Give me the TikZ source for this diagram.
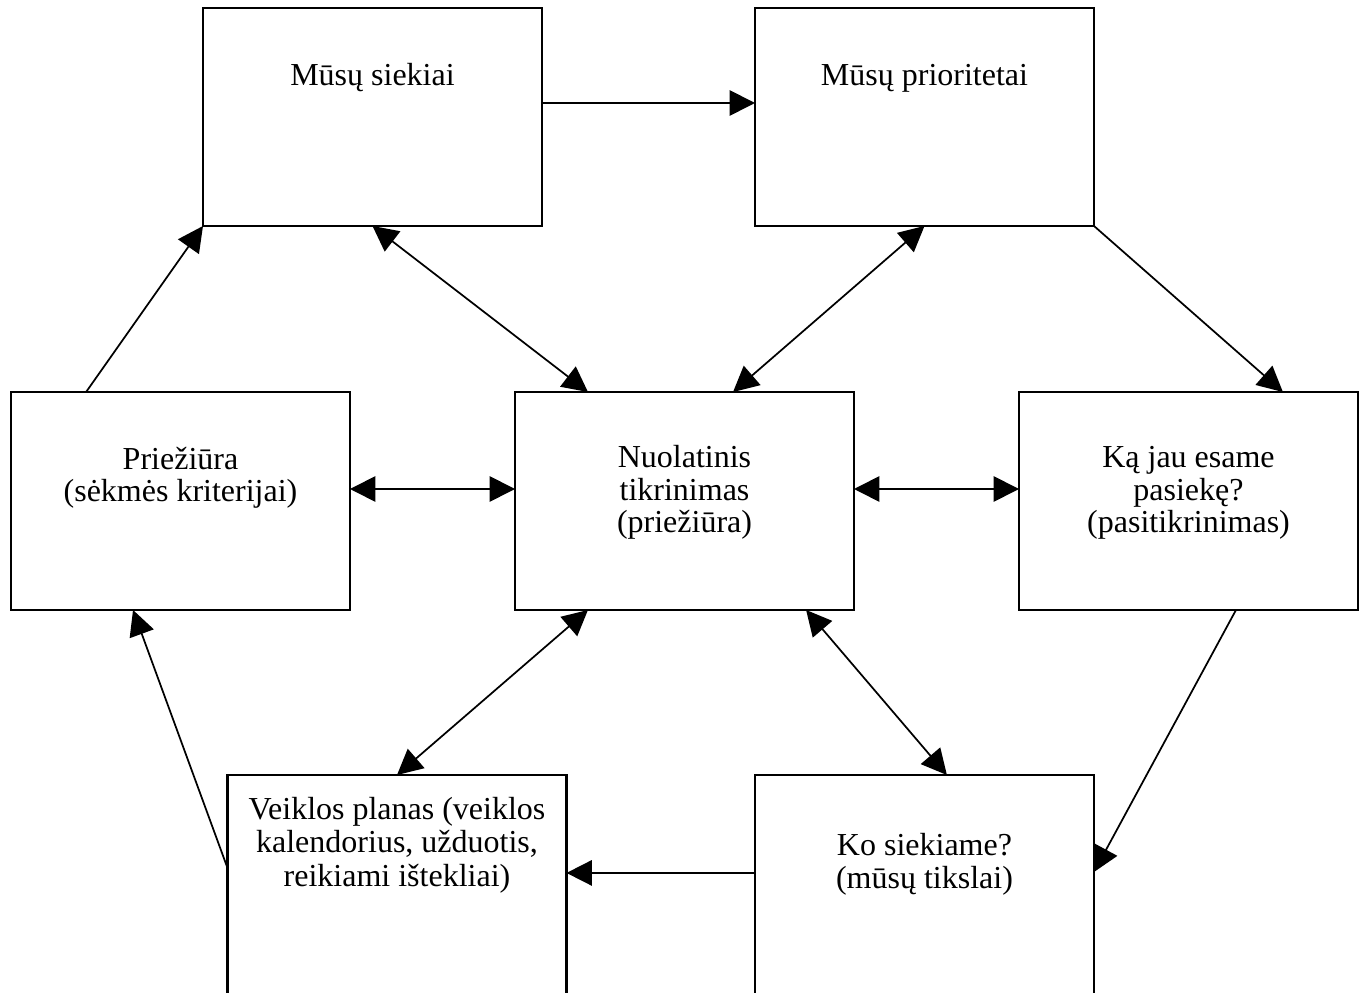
\documentclass[tikz,border=0pt]{standalone}
\usepackage{fontspec}
\setmainfont{Liberation Serif}
\usetikzlibrary{arrows.meta}
\begin{document}
\begin{tikzpicture}[x=0.375pt,y=-0.375pt,
  box/.style={draw, line width=0.8pt, minimum width=127.125pt, minimum height=81.75pt, inner sep=0pt, outer sep=0pt},
  tallbox/.style={box, minimum height=86.25pt},
  txt/.style={font=\fontsize{12pt}{12.2pt}\selectfont, align=center, inner sep=0pt, anchor=base},
  conn/.style={line width=0.65pt, -{Triangle[length=9.5pt,width=9.5pt]}},
  dconn/.style={line width=0.65pt, {Triangle[length=9.5pt,width=9.5pt]}-{Triangle[length=9.5pt,width=9.5pt]}}]
\useasboundingbox (0,0) rectangle (1359,993);
\clip (0,0) rectangle (1359,993);
% boxes
\node[box] (siek) at (372.5,117) {};
\node[box] (prio) at (924.5,117) {};
\node[box] (prie) at (180.5,501) {};
\node[box] (nuol) at (684.5,501) {};
\node[box] (kaja) at (1188.5,501) {};
\node[tallbox] (veik) at (397,890) {};
\node[tallbox] (kosi) at (924.5,890) {};
% texts (anchor = baseline of the last line)
\node[txt] (tsiek) at (372.5,86) {Mūsų siekiai};
\node[txt] (tprio) at (924.5,86) {Mūsų prioritetai};
\node[txt] (tprie) at (180.5,502) {Priežiūra\\(sėkmės kriterijai)};
\node[txt] (tnuol) at (684.5,533) {Nuolatinis\\tikrinimas\\(priežiūra)};
\node[txt] (tkaja) at (1188.5,533) {Ką jau esame\\pasiekę?\\(pasitikrinimas)};
\node[txt, font=\fontsize{12pt}{12.4pt}\selectfont] (tveik) at (397,886) {Veiklos planas (veiklos\\kalendorius, užduotis,\\reikiami ištekliai)};
\node[txt] (tkosi) at (924.5,888) {Ko siekiame?\\(mūsų tikslai)};
% one-way connectors
\draw[conn] ([yshift=5.25pt]siek.east) -- ([yshift=5.25pt]prio.west);
\draw[conn] (prio.south east) -- ([xshift=35.4pt]kaja.north);
\draw[conn] ([xshift=17.8pt]kaja.south) -- ([yshift=6.75pt]kosi.east);
\draw[conn] ([yshift=6.4pt]kosi.west) -- ([yshift=6.4pt]veik.east);
\draw[conn] ([yshift=8.25pt]veik.west) -- ([xshift=-17.8pt]prie.south);
\draw[conn] ([xshift=-35.4pt]prie.north) -- (siek.south west);
% two-way connectors
\draw[dconn] ([yshift=4.5pt]prie.east) -- ([yshift=4.5pt]nuol.west);
\draw[dconn] ([yshift=4.5pt]nuol.east) -- ([yshift=4.5pt]kaja.west);
\draw[dconn] (siek.south) -- ([xshift=-36.2pt]nuol.north);
\draw[dconn] (prio.south) -- ([xshift=18.2pt]nuol.north);
\draw[dconn] ([xshift=-36.2pt]nuol.south) -- (veik.north);
\draw[dconn] ([xshift=45.6pt]nuol.south) -- ([xshift=8.4pt]kosi.north);
\end{tikzpicture}
\end{document}
